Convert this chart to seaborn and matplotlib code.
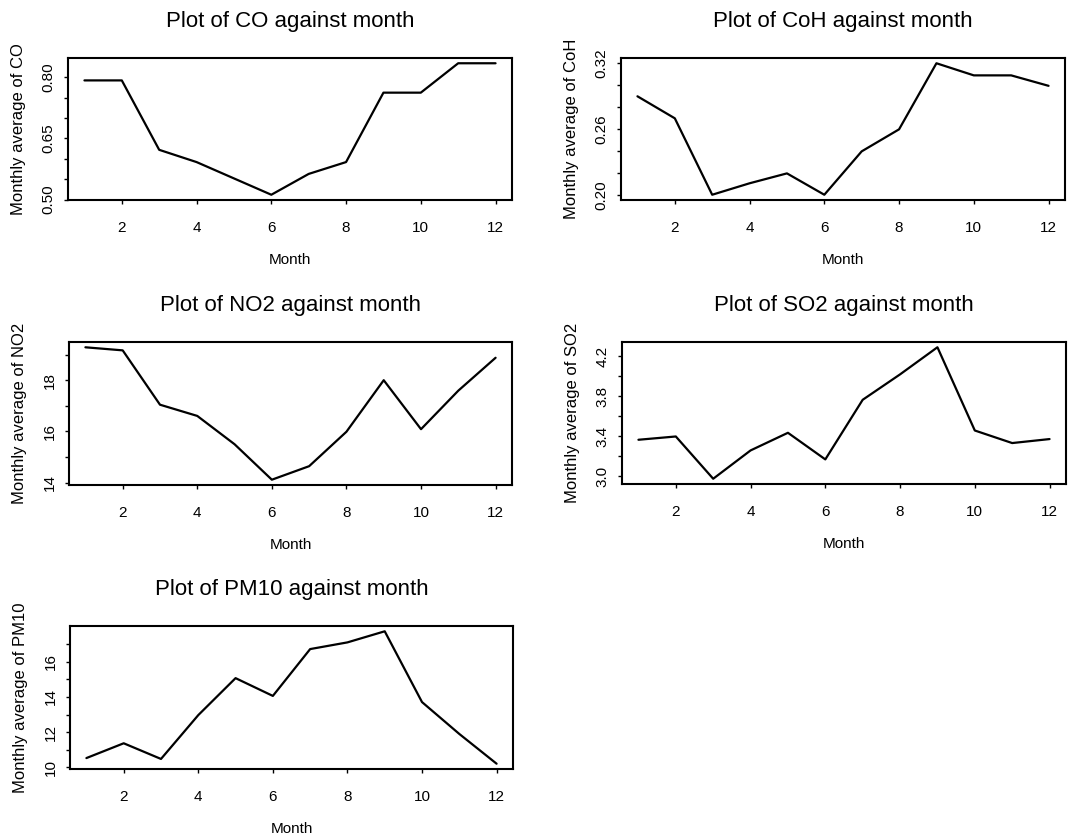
import matplotlib
matplotlib.use("Agg")
import matplotlib.pyplot as plt
import seaborn as sns
import pandas as pd

# ---- data ----
months = [1, 2, 3, 4, 5, 6, 7, 8, 9, 10, 11, 12]
co = [0.792, 0.792, 0.622, 0.592, 0.552, 0.512, 0.563, 0.592, 0.762, 0.762, 0.834, 0.834]
coh = [0.290, 0.270, 0.2006, 0.211, 0.220, 0.2006, 0.240, 0.260, 0.320, 0.309, 0.309, 0.2995]
no2 = [19.30, 19.18, 17.05, 16.61, 15.50, 14.11, 14.64, 15.99, 18.01, 16.09, 17.60, 18.89]
so2 = [3.364, 3.397, 2.973, 3.257, 3.434, 3.167, 3.765, 4.02, 4.292, 3.457, 3.331, 3.371]
pm10 = [10.53, 11.37, 10.48, 12.97, 15.07, 14.06, 16.72, 17.10, 17.73, 13.71, 11.90, 10.21]

pollutants = ["CO", "CoH", "NO2", "SO2", "PM10"]
x_ticks = [2, 4, 6, 8, 10, 12]
x_ticklabels = ["2", "4", "6", "8", "10", "12"]

co_yticks = [0.50, 0.55, 0.60, 0.65, 0.70, 0.75, 0.80]
co_ylabels = ["0.50", "", "", "0.65", "", "", "0.80"]
coh_yticks = [0.20, 0.22, 0.24, 0.26, 0.28, 0.30, 0.32]
coh_ylabels = ["0.20", "", "", "0.26", "", "", "0.32"]
no2_yticks = [14, 15, 16, 17, 18, 19]
no2_ylabels = ["14", "", "16", "", "18", ""]
so2_yticks = [3.0, 3.2, 3.4, 3.6, 3.8, 4.0, 4.2]
so2_ylabels = ["3.0", "", "3.4", "", "3.8", "", "4.2"]
pm10_yticks = [10, 11, 12, 13, 14, 15, 16, 17]
pm10_ylabels = ["10", "", "12", "", "14", "", "16", ""]

series = [co, coh, no2, so2, pm10]
yticks = [co_yticks, coh_yticks, no2_yticks, so2_yticks, pm10_yticks]
ylabels = [co_ylabels, coh_ylabels, no2_ylabels, so2_ylabels, pm10_ylabels]

# ---- style ----
sns.set_theme(style="ticks")
plt.rcParams["font.family"] = ["Liberation Sans", "DejaVu Sans"]

W, H = 1078, 835
fig = plt.figure(figsize=(W / 100, H / 100), dpi=100)

# axes boxes in pixels: (left, top, right, bottom)
boxes = [
    (68, 58, 512, 200),
    (621, 58, 1065, 200),
    (69, 342, 512, 485),
    (622, 342, 1066, 484),
    (70, 626, 513, 769),
]

for name, vals, yt, yl, (l, t, r, b) in zip(pollutants, series, yticks, ylabels, boxes):
    ax = fig.add_axes([l / W, 1 - b / H, (r - l) / W, (b - t) / H])
    df = pd.DataFrame({"Month": months, "value": vals})
    sns.lineplot(data=df, x="Month", y="value", ax=ax, color="black", linewidth=1.6)
    ax.margins(x=0.04, y=0.04)
    ax.set_xticks(x_ticks)
    ax.set_xticklabels(x_ticklabels)
    ax.set_yticks(yt)
    ax.set_yticklabels(yl)
    ax.tick_params(axis="both", direction="out", length=3, width=1, color="black",
                   labelsize=11, labelcolor="black")
    ax.tick_params(axis="x", pad=12)
    ax.tick_params(axis="y", pad=6, labelrotation=90)
    for lab in ax.get_yticklabels():
        lab.set_va("center")
    for s in ax.spines.values():
        s.set_visible(True)
        s.set_color("black")
        s.set_linewidth(1.5)
    ax.set_xlabel("Month", fontsize=11, labelpad=13, color="black")
    ax.set_ylabel(f"Monthly average of {name}", fontsize=12, labelpad=11, color="black")
    ax.set_title(f"Plot of {name} against month", fontsize=16, pad=22, color="black")

fig.savefig("out.png", dpi=100, facecolor="white")
